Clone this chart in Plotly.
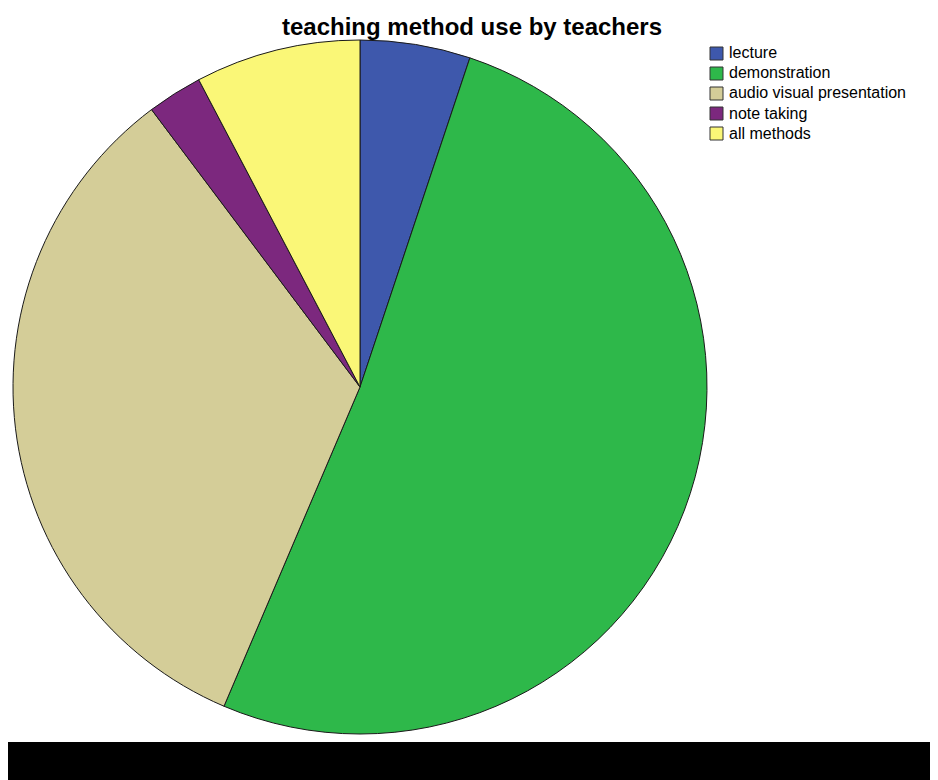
import plotly.graph_objs as go

methods = ['lecture', 'demonstration', 'audio visual presentation', 'note taking', 'all methods']
counts = [2, 20, 13, 1, 3]
colors = ['#3E58AC', '#2EB84A', '#D4CD98', '#7C287E', '#FAF777']

# the page body has an 8px margin, so the figure is drawn 8px in from the corner
W, H = 930, 772
OFF = 8


def px(x):
    return (x - OFF) / W


def py(y):
    return 1 - (y - OFF) / H


fig = go.Figure()

fig.add_trace(go.Pie(
    labels=methods,
    values=counts,
    sort=False,
    direction='clockwise',
    rotation=0,
    textinfo='none',
    showlegend=False,
    marker=dict(colors=colors, line=dict(color='#1a1a1a', width=1)),
    domain=dict(x=[px(13), px(707)], y=[py(734), py(40)]),
))

# legend drawn as boxes + labels, like the original SPSS output
shapes = []
annotations = []
for i, (name, col) in enumerate(zip(methods, colors)):
    yc = 53 + 20 * i
    shapes.append(dict(
        type='rect', xref='paper', yref='paper',
        x0=px(710), x1=px(723), y0=py(yc + 7), y1=py(yc - 6),
        fillcolor=col, line=dict(color='#333333', width=1),
    ))
    annotations.append(dict(
        text=name, xref='paper', yref='paper',
        x=px(727), y=py(yc), xanchor='left', yanchor='middle',
        showarrow=False, font=dict(size=16, color='black'),
    ))

shapes.append(dict(
    type='rect', xref='paper', yref='paper',
    x0=0, x1=1, y0=0, y1=py(742),
    fillcolor='black', line=dict(width=0),
))

fig.update_layout(
    width=W,
    height=H,
    margin=dict(l=0, r=0, t=0, b=0),
    paper_bgcolor='white',
    font=dict(family='Liberation Sans, Arial, sans-serif', color='black'),
    title=dict(
        text='<b>teaching method use by teachers</b>',
        x=px(472), xanchor='center',
        y=py(27), yanchor='middle',
        font=dict(size=24),
    ),
    shapes=shapes,
    annotations=annotations,
)

fig.write_html("out.html")
